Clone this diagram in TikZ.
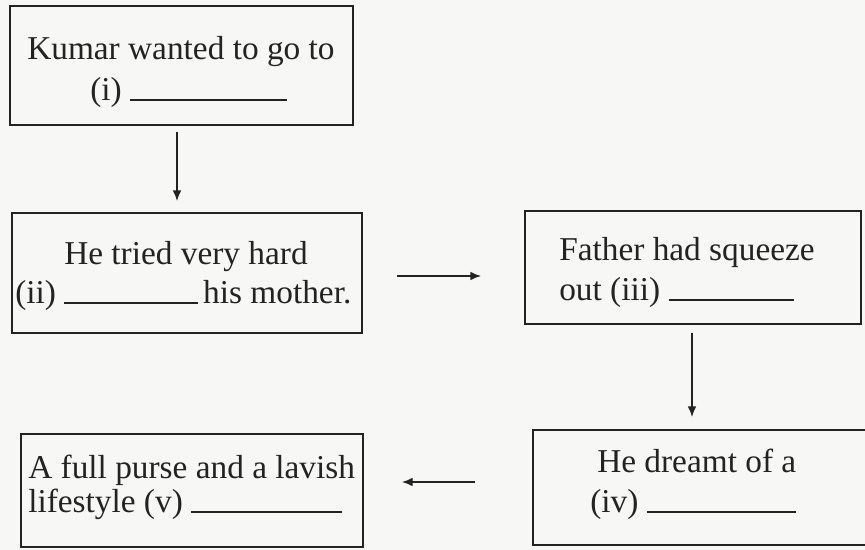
\documentclass[tikz,border=0pt]{standalone}
\usepackage{fontspec}
\setmainfont{Liberation Serif}
\usetikzlibrary{arrows.meta,fit}
\definecolor{paper}{RGB}{247,247,245}
\definecolor{ink}{RGB}{35,35,35}
\newcommand{\blankline}[1]{\rule[-0.5pt]{#1}{0.9pt}}
\tikzset{
  box/.style={draw=ink, line width=1.1pt, inner sep=0pt},
  txt/.style={anchor=base west, inner sep=0pt, text=ink, font=\fontsize{25}{30}\selectfont},
  flow/.style={draw=ink, line width=1pt, -{Latex[length=8pt,width=6.5pt]}}
}
\begin{document}
\begin{tikzpicture}[x=0.75pt,y=-0.75pt]
\fill[paper] (0,0) rectangle (865,550);
\useasboundingbox (0,0) rectangle (865,550);
\clip (0,0) rectangle (865,550);
% boxes
\node[box, fit={(10,6) (353,125)}] (b1) {};
\node[box, fit={(12,213) (362,333)}] (b2) {};
\node[box, fit={(525,211) (861,324)}] (b3) {};
\node[box, fit={(533,430) (885,545)}] (b4) {};
\node[box, fit={(21,434) (363,547)}] (b5) {};
% texts
\node[txt] (t1a) at (27,59) {Kumar wanted to go to};
\node[txt] (t1b) at (90,100) {(i) \blankline{118pt}};
\node[txt] (t2a) at (64,264) {He tried very hard};
\node[txt] (t2b) at (15,303) {(ii) \blankline{100pt}\,his mother.};
\node[txt] (t3a) at (559,260) {Father had squeeze};
\node[txt] (t3b) at (559,300) {out (iii) \blankline{94pt}};
\node[txt] (t4a) at (597,472) {He dreamt of a};
\node[txt] (t4b) at (590,512) {(iv) \blankline{112pt}};
\node[txt] (t5a) at (28,478) {A full purse and a lavish};
\node[txt] (t5b) at (28,512) {lifestyle (v) \blankline{113pt}};
% connector ends
\coordinate (a1s) at (177,132); \coordinate (a1e) at (177,201);
\coordinate (a2s) at (397,276); \coordinate (a2e) at (481,276);
\coordinate (a3s) at (692,333); \coordinate (a3e) at (692,417);
\coordinate (a4s) at (475,482); \coordinate (a4e) at (402,482);
\draw[flow] (a1s) -- (a1e);
\draw[flow] (a2s) -- (a2e);
\draw[flow] (a3s) -- (a3e);
\draw[flow] (a4s) -- (a4e);
\end{tikzpicture}
\end{document}
